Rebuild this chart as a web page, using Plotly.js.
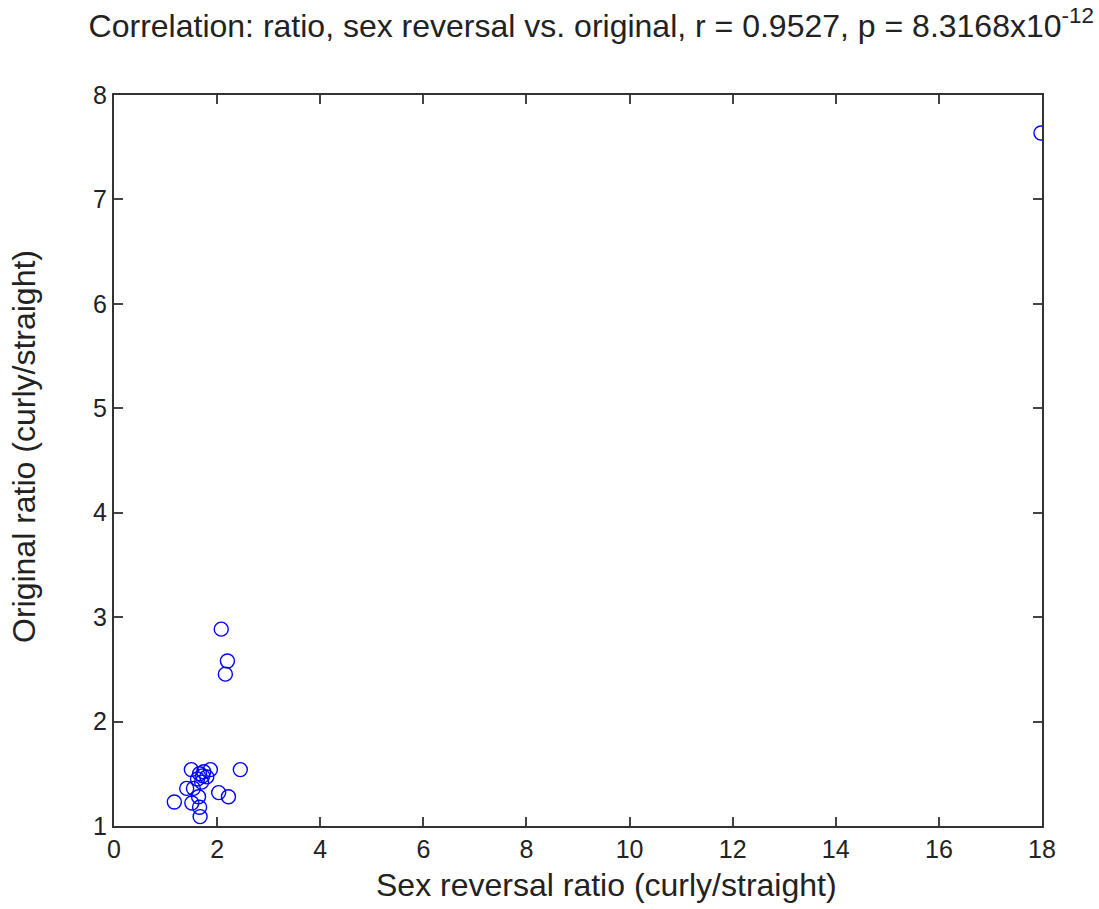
<!DOCTYPE html>
<html>
<head>
<meta charset="utf-8">
<script src="https://cdn.plot.ly/plotly-3.0.1.min.js"></script>
<style>html,body{margin:0;padding:0;background:#fff;}#chart{width:1099px;height:909px;}</style>
</head>
<body>
<div id="chart"></div>
<script>
const sexReversalRatio = [2.08, 2.20, 2.16, 1.50, 1.87, 2.45, 1.66, 1.74, 1.80, 1.70, 1.41, 1.54, 1.64, 2.03, 2.22, 1.17, 1.51, 1.66, 1.67, 1.62, 1.72, 17.98];
const originalRatio    = [2.885, 2.58, 2.454, 1.54, 1.54, 1.54, 1.50, 1.52, 1.47, 1.42, 1.36, 1.36, 1.28, 1.32, 1.28, 1.23, 1.22, 1.18, 1.09, 1.45, 1.48, 7.636];
const xTicks = [0, 2, 4, 6, 8, 10, 12, 14, 16, 18];
const yTicks = [1, 2, 3, 4, 5, 6, 7, 8];
const titleText = 'Correlation: ratio, sex reversal vs. original, r = 0.9527, p = 8.3168x10<sup>-12</sup>';
const xTitle = 'Sex reversal ratio (curly/straight)';
const yTitle = 'Original ratio (curly/straight)';

const font = 'Liberation Sans, Arial, sans-serif';
Plotly.newPlot('chart', [{
  x: sexReversalRatio, y: originalRatio, type: 'scatter', mode: 'markers',
  marker: {symbol: 'circle-open', size: 14, color: '#0000ff', line: {width: 1.4, color: '#0000ff'}},
  hoverinfo: 'x+y'
}], {
  width: 1099, height: 909,
  margin: {l: 114, r: 57, t: 95, b: 83},
  paper_bgcolor: '#fff', plot_bgcolor: '#fff',
  showlegend: false,
  font: {family: font, color: '#222'},
  title: {text: titleText,
          font: {size: 32, family: font, color: '#222'}, x: 0.538, xref: 'container', xanchor: 'center', y: 0.972, yref: 'container', yanchor: 'middle'},
  xaxis: {range: [0, 18], tickvals: xTicks, ticktext: xTicks.map(String), showgrid: false, zeroline: false,
          showline: true, linecolor: '#333', linewidth: 2, mirror: 'ticks', ticks: 'inside', ticklen: 9, tickwidth: 1.5, tickcolor: '#444',
          tickfont: {size: 25, family: font, color: '#222'}},
  yaxis: {range: [1, 8], tickvals: yTicks, ticktext: yTicks.map(String), showgrid: false, zeroline: false,
          showline: true, linecolor: '#333', linewidth: 2, mirror: 'ticks', ticks: 'inside', ticklen: 9, tickwidth: 1.5, tickcolor: '#444',
          tickfont: {size: 25, family: font, color: '#222'}},
  annotations: [
    {text: xTitle, xref: 'paper', yref: 'paper', x: 0.5302, y: -0.0807, xanchor: 'center', yanchor: 'middle', showarrow: false,
     font: {size: 32, family: font, color: '#222'}},
    {text: yTitle, xref: 'paper', yref: 'paper', x: -0.097, y: 0.5198, xanchor: 'center', yanchor: 'middle', showarrow: false, textangle: -90,
     font: {size: 32, family: font, color: '#222'}}
  ]
}, {displayModeBar: false});
</script>
</body>
</html>
